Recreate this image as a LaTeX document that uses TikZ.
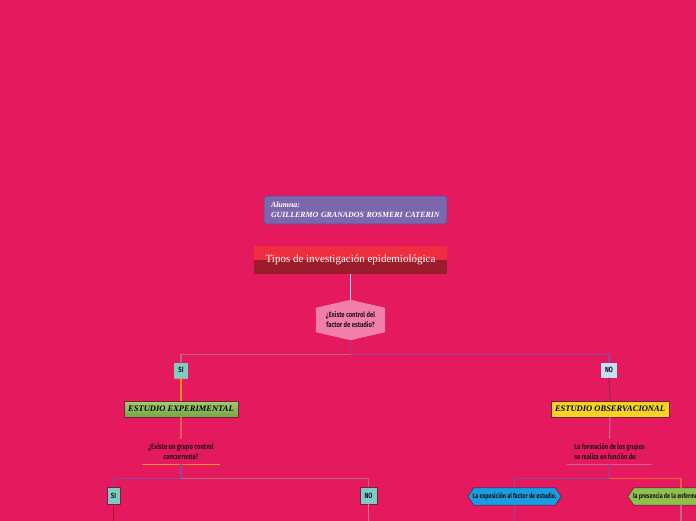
\documentclass[tikz,border=0pt]{standalone}
\usepackage{fontspec}
\setmainfont{Liberation Serif}
\newfontfamily\condf[FakeStretch=0.78]{Fira Sans}
\usetikzlibrary{backgrounds,calc}
\definecolor{bgc}{HTML}{E51A5E}
\definecolor{purpbox}{HTML}{7C67AE}
\definecolor{purpedge}{HTML}{5E4A8E}
\definecolor{titletop}{HTML}{EE2D3E}
\definecolor{titlebot}{HTML}{9B1D2B}
\definecolor{hexpink}{HTML}{F27FAA}
\definecolor{tealc}{HTML}{7DCCC3}
\definecolor{lblue}{HTML}{C7DFF2}
\definecolor{greenc}{HTML}{8DC14F}
\definecolor{yellowc}{HTML}{F5D327}
\definecolor{bluec}{HTML}{1B9CE0}
\definecolor{maroon}{HTML}{7A1E3C}
\definecolor{darktxt}{HTML}{231419}
\definecolor{lnwhite}{HTML}{F8D0DE}
\definecolor{lnmauve}{HTML}{B8688A}
\definecolor{lnpurp}{HTML}{8E4A9A}
\definecolor{lnorange}{HTML}{F7941D}
\definecolor{lnred}{HTML}{F05A5A}
\definecolor{lnmaroon}{HTML}{8E2A5A}
\definecolor{lnpinkp}{HTML}{C860A0}
\definecolor{lndred}{HTML}{B0102A}
\definecolor{lnlpink}{HTML}{F06888}
\definecolor{lnorred}{HTML}{F0603A}
\tikzset{
  conn/.style={line width=1.1pt},
  condtxt/.style={font=\condf\bfseries\fontsize{7.6}{9.5}\selectfont, text=darktxt},
  smallbox/.style={condtxt, font=\condf\bfseries\fontsize{7.5}{9}\selectfont, minimum height=15pt, inner sep=0pt},
  labelbox/.style={draw=maroon, line width=0.8pt, minimum height=16pt, inner sep=0pt,
     font=\bfseries\itshape\fontsize{8.5}{10}\selectfont, text=black},
  hexnode/.style={condtxt, inner sep=0pt, align=center},
  sidehex/.style={hexnode, font=\condf\bfseries\fontsize{6.9}{8}\selectfont, minimum height=17pt},
}
\begin{document}
\begin{tikzpicture}[x=1pt,y=-1pt]
\useasboundingbox (0,0) rectangle (696,520);
% nodes
\node[fill=purpbox, draw=purpedge, line width=0.6pt, rounded corners=3pt,
      minimum height=28pt, text width=169pt, inner xsep=7pt, inner ysep=0pt, align=left,
      font=\bfseries\itshape\fontsize{7.9}{10}\selectfont, text=white] (alumna) at (355.5,210)
      {Alumna:\\GUILLERMO GRANADOS ROSMERI CATERIN};
\node[minimum width=193pt, minimum height=28pt, inner sep=0pt, fill=titlebot,
      path picture={\fill[titletop] (path picture bounding box.north west) rectangle (path picture bounding box.east);},
      font=\fontsize{11}{13}\selectfont, text=white] (title) at (350.5,260)
      {Tipos de investigación epidemiológica};
\node[hexnode, font=\condf\bfseries\fontsize{7.5}{10}\selectfont, minimum width=69pt, minimum height=40pt] (q1) at (350.5,320)
      {¿Existe control del\\factor de estudio?};
\node[smallbox, fill=tealc, minimum width=14pt] (si1) at (181,370) {SI};
\node[smallbox, fill=lblue, minimum width=16pt] (no1) at (609,370) {NO};
\node[labelbox, top color=greenc!80!white, bottom color=greenc!85!black, minimum width=114pt] (exp) at (181,409) {ESTUDIO EXPERIMENTAL};
\node[labelbox, fill=yellowc, minimum width=118pt] (obs) at (610,409) {ESTUDIO OBSERVACIONAL};
\node[condtxt, align=center, minimum width=78pt, minimum height=25pt, inner sep=0pt] (q2) at (181,451.5)
      {¿Existe un grupo control\\concurrente?};
\node[condtxt, font=\condf\bfseries\fontsize{7.3}{10}\selectfont, align=left, minimum width=85pt, minimum height=25pt, inner sep=0pt] (q3) at (609.5,451.5)
      {La formación de los grupos\\se realiza en función de:};
\node[smallbox, fill=tealc, draw=maroon, line width=0.8pt, minimum width=13pt, minimum height=17pt] (si2) at (113.5,495.5) {SI};
\node[smallbox, fill=tealc, draw=maroon, line width=0.8pt, minimum width=17pt, minimum height=17pt] (no2) at (368.5,495.5) {NO};
\node[sidehex, minimum width=93pt] (expo) at (514.5,496.5) {La exposición al factor de estudio.};
\node[sidehex, inner xsep=5pt] (pres) at (681,496.5) {\makebox[96pt][l]{la presencia de la enfermedad.}};
% helper coordinates
\coordinate (b1) at ($(q1.south)+(0,-14pt)$);
\coordinate (b2) at ($(q2.south)+(0,-14pt)$);
\coordinate (b3) at ($(q3.south)+(0,-14pt)$);
\coordinate (e1) at (113.5,522);
\coordinate (e2) at (368.5,522);
\coordinate (e3) at (514.5,522);
\coordinate (e4) at (681,522);
\begin{pgfonlayer}{background}
\fill[bgc] (-2,-2) rectangle (698,522);
\fill[hexpink] (q1.north) -- ([yshift=-8pt]q1.north east) -- ([yshift=8pt]q1.south east) -- (q1.south)
   -- ([yshift=8pt]q1.south west) -- ([yshift=-8pt]q1.north west) -- cycle;
\filldraw[fill=bluec, draw=purpedge!70!black, line width=0.7pt] (expo.west) -- ([xshift=6pt]expo.north west) -- ([xshift=-6pt]expo.north east) -- (expo.east)
   -- ([xshift=-6pt]expo.south east) -- ([xshift=6pt]expo.south west) -- cycle;
\filldraw[fill=greenc, draw=maroon, line width=0.7pt] (pres.west) -- ([xshift=6pt]pres.north west) -- ([xshift=-6pt]pres.north east) -- (pres.east)
   -- ([xshift=-6pt]pres.south east) -- ([xshift=6pt]pres.south west) -- cycle;
\fill[gray!70] ([yshift=-1.5pt]si1.south west) rectangle (si1.south east);
\end{pgfonlayer}
% connectors
\draw[conn, lnwhite] (title.south) -- (q1.north);
\draw[conn, lnpurp] (q1.south) -- (b1) -| (no1.north);
\draw[conn, lnmauve] (b1) -| (si1.north);
\draw[conn, lnorange] (si1.south) -- (exp.north);
\draw[conn, lnred] (exp.south) -- (q2.north);
\draw[conn, lnorange] (q2.south west) -- (q2.south east);
\draw[conn, lnpurp] (q2.south) -- (b2) -| (si2.north);
\draw[conn, lnmauve] (b2) -| (no2.north);
\draw[conn, lndred] (si2.south) -- (e1);
\draw[conn, lnlpink] (no2.south) -- (e2);
\draw[conn, lnmaroon] (no1.south) -- (obs.north);
\draw[conn, lnpinkp] (obs.south) -- (q3.north);
\draw[conn, lnpinkp] (q3.south west) -- (q3.south east);
\draw[conn, lnpurp] (q3.south) -- (b3) -| (expo.north);
\draw[conn, lnorred] (b3) -| (pres.north);
\draw[conn, lnpurp] (expo.south) -- (e3);
\draw[conn, lnmauve] (pres.south) -- (e4);
\end{tikzpicture}
\end{document}
